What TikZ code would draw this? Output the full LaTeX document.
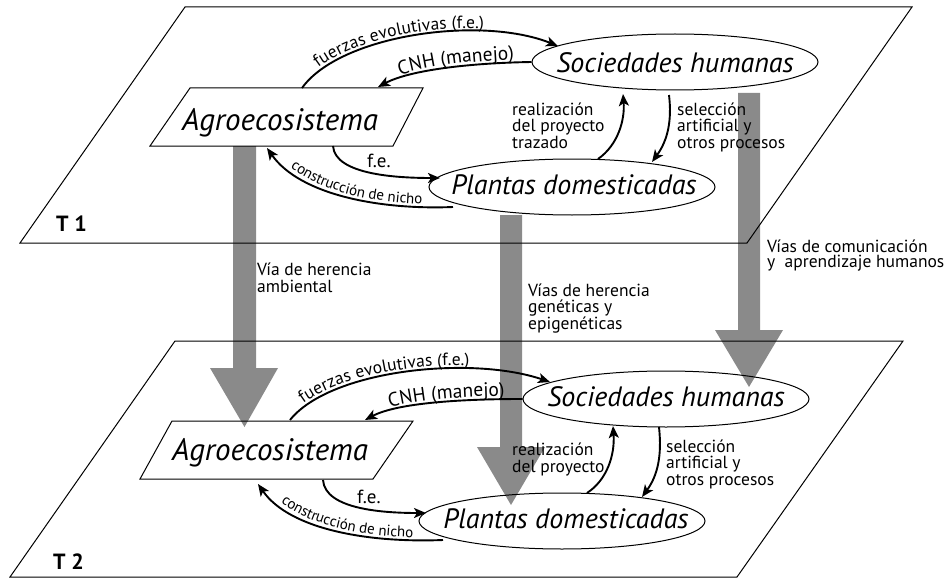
\documentclass[tikz,border=0pt]{standalone}
\usepackage{fontspec}
\setmainfont{PT Sans}
\usetikzlibrary{shapes.geometric,arrows.meta,decorations.text,calc}
\begin{document}
\begin{tikzpicture}[x=1pt,y=-1pt,
  plane/.style={draw=black, line width=1pt},
  agrobox/.style={draw=black, line width=1pt},
  ell/.style={ellipse, draw, line width=1pt, minimum width=286pt, minimum height=56pt, inner sep=0pt},
  ntext/.style={font=\fontsize{28}{30}\selectfont\itshape, inner sep=0pt, anchor=base},
  agrotext/.style={font=\fontsize{31}{32}\selectfont\itshape, inner sep=0pt, anchor=base},
  conn/.style={line width=1.9pt, -{Stealth[length=12pt,width=10pt,inset=3pt]}},
  lbl/.style={font=\fontsize{17.5}{16.5}\selectfont, align=left, inner sep=0pt, anchor=base west},
  fe/.style={font=\fontsize{19}{19}\selectfont, inner sep=0pt, anchor=base west},
  big/.style={fill=black, fill opacity=0.46, draw=none},
  ttl/.style={font=\fontsize{22}{22}\selectfont\bfseries, inner sep=0pt, anchor=base west},
  along/.style 2 args={decorate, decoration={text along path, text={|\fontsize{#1}{#1}\selectfont|#2}, text align=left, raise=3pt}},
  alongc/.style 2 args={decorate, decoration={text along path, text={|\fontsize{#1}{#1}\selectfont|#2}, text align=center, raise=3pt}}
]
\useasboundingbox (0,0) rectangle (946,578);

% ---------- planes ----------
\draw[plane] (185,7) -- (912,7) -- (747,243) -- (20,243) -- cycle;
\draw[plane] (175,341) -- (903,341) -- (737,577) -- (10,577) -- cycle;
\node[ttl] (t1) at (56,231) {T 1};
\node[ttl] (t2) at (53,569) {T 2};

% ---------- T1 nodes ----------
\draw[agrobox] (190,88) -- (423,88) -- (393,146) -- (150,146) -- cycle;
\node[agrotext] (agro1) at (280,131) {Agroecosistema};
\node[ell] (soc1) at (675,62) {};
\node[ntext] (soc1t) at (675,73) {Sociedades humanas};
\node[ell] (pla1) at (572,187) {};
\node[ntext] (pla1t) at (574,194) {Plantas domesticadas};

% named points on the T1 Agroecosistema box
\coordinate (a1top) at (302,88);
\coordinate (a1cnh) at (378,87);
\coordinate (a1bot) at (333,146);
\coordinate (a1cn) at (267,148);

% ---------- T1 connectors ----------
\draw[conn] (a1top) .. controls (340,35) and (480,15) .. ($(soc1)+(-117,-16)$);
\path[along={17.5}{fuerzas evolutivas (f.e.)}] (319.8,70.4) .. controls (372.7,30.9) and (489.4,18.7) .. ($(soc1)+(-117,-16)$);
\draw[conn] (soc1.west) .. controls (470,63) and (410,70) .. (a1cnh);
\path[along={19.5}{CNH (manejo)}] (400.4,78) .. controls (434.1,67.4) and (482.4,62.8) .. (soc1.west);
\draw[conn] (a1bot) .. controls (335,175) and (398,178) .. ($(pla1)+(-132,-9)$);
\node[fe] (fe1) at (367,167) {f.e.};
\draw[conn] ($(pla1)+(-119,20)$) .. controls (380,210) and (300,195) .. (a1cn);
\path[alongc={15}{construcción de nicho}] (a1cn) .. controls (300,195) and (380,210) .. ($(pla1)+(-119,20)$);
\draw[conn] ($(pla1)+(26,-28)$) .. controls (618,145) and (625,120) .. ($(soc1)+(-52,32)$);
\draw[conn] ($(soc1)+(-6,33)$) .. controls (672,120) and (668,140) .. ($(pla1)+(80,-25)$);
\node[lbl] (re1) at (512,148) {realización\\del proyecto\\trazado};
\node[lbl] (se1) at (677,148) {selección\\artificial y\\otros procesos};

% ---------- T2 nodes ----------
\draw[agrobox] (172,421) -- (413,421) -- (373,479) -- (140,479) -- cycle;
\node[agrotext] (agro2) at (270,460) {Agroecosistema};
\node[ell] (soc2) at (666,399) {};
\node[ntext] (soc2t) at (666,406) {Sociedades humanas};
\node[ell] (pla2) at (562,521) {};
\node[ntext] (pla2t) at (566,528) {Plantas domesticadas};

\coordinate (a2top) at (290,420);
\coordinate (a2cnh) at (365,420);
\coordinate (a2bot) at (323,480);
\coordinate (a2cn) at (258,484);

% ---------- T2 connectors ----------
\draw[conn] (a2top) .. controls (330,370) and (470,355) .. ($(soc2)+(-116,-17)$);
\path[along={17.5}{fuerzas evolutivas (f.e.)}] (304.8,406.1) .. controls (357.4,367.4) and (478,357.7) .. ($(soc2)+(-116,-17)$);
\draw[conn] (soc2.west) .. controls (460,399) and (397,403) .. (a2cnh);
\path[along={19.5}{CNH (manejo)}] (390.3,410.6) .. controls (424.7,401.4) and (473.9,399) .. (soc2.west);
\draw[conn] (a2bot) .. controls (325,510) and (386,513) .. ($(pla2)+(-136,-8)$);
\node[fe] (fe2) at (357,503) {f.e.};
\draw[conn] ($(pla2)+(-119,19)$) .. controls (370,543) and (290,530) .. (a2cn);
\path[alongc={15}{construcción de nicho}] (a2cn) .. controls (290,530) and (370,543) .. ($(pla2)+(-119,19)$);
\draw[conn] ($(pla2)+(25,-28)$) .. controls (607,480) and (615,455) .. ($(soc2)+(-53,27)$);
\draw[conn] ($(soc2)+(-7,28)$) .. controls (662,455) and (658,475) .. ($(pla2)+(80,-24)$);
\node[lbl] (re2) at (512,472) {realización\\del proyecto};
\node[lbl] (se2) at (666,485) {selección\\artificial y\\otros procesos};

% ---------- inheritance labels ----------
\node[lbl] (lh1) at (257,292) {Vía de herencia\\ambiental};
\node[lbl] (lh2) at (528,329) {Vías de herencia\\genéticas y\\epigenéticas};
\node[lbl, font=\fontsize{17.5}{15}\selectfont] (lh3) at (767,267) {Vías de comunicación\\y\ \ aprendizaje humanos};

% ---------- big grey inheritance arrows ----------
\fill[big] (233,146) -- (256,146) -- (256,368) -- (278,368) -- (244.5,427) -- (210,368) -- (233,368) -- cycle;
\fill[big] (500,215) -- (522,215) -- (522,447) -- (545,447) -- (511,505) -- (477,447) -- (500,447) -- cycle;
\fill[big] (738,93) -- (760,93) -- (760,330) -- (783,330) -- (749,387) -- (715,330) -- (738,330) -- cycle;
\end{tikzpicture}
\end{document}
